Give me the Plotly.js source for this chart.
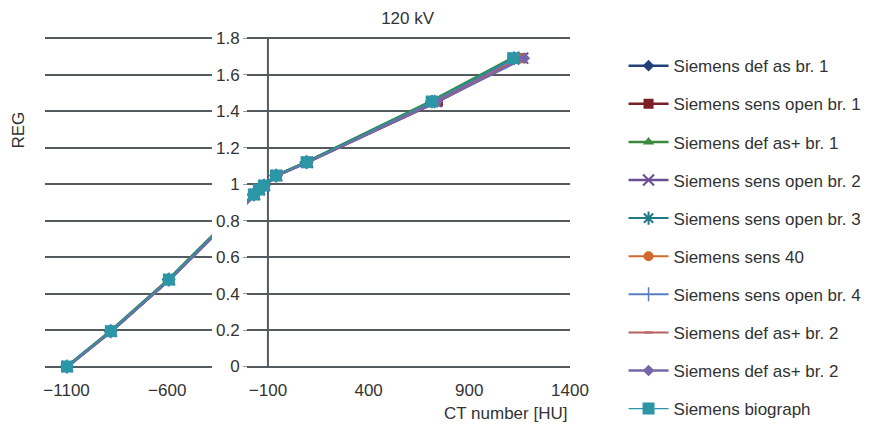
<!DOCTYPE html>
<html>
<head>
<meta charset="utf-8">
<script src="https://cdn.plot.ly/plotly-3.0.1.min.js"></script>
<style>html,body{margin:0;padding:0;background:#fff;}#chart{width:871px;height:430px;}</style>
</head>
<body>
<div id="chart"></div>
<script>
// REG values (shared material series)
const reg = [0.000, 0.194, 0.477, 0.944, 0.971, 0.993, 1.048, 1.121, 1.454, 1.692];

// CT numbers [HU] per scanner setting
const ctDefAsBr1       = [-1095, -878, -590, -168, -143, -118, -58, 95, 730, 1150];
const ctSensOpenBr1    = [-1097, -879, -590, -167, -144, -119, -57, 96, 744, 1160];
const ctDefAsPlusBr1   = [-1100, -884, -596, -172, -147, -122, -63, 88, 705, 1112];
const ctSensOpenBr2    = [-1096, -877, -589, -166, -142, -117, -56, 97, 735, 1165];
const ctSensOpenBr3    = [-1099, -882, -594, -171, -146, -121, -61, 90, 715, 1122];
const ctSens40         = [-1094, -876, -588, -165, -141, -116, -55, 98, 738, 1158];
const ctSensOpenBr4    = [-1097, -880, -591, -168, -143, -118, -58, 94, 728, 1145];
const ctDefAsPlusBr2a  = [-1096, -879, -590, -167, -142, -117, -57, 95, 732, 1152];
const ctDefAsPlusBr2b  = [-1094, -876, -587, -164, -140, -115, -54, 99, 740, 1173];
const ctBiograph       = [-1098, -880, -592, -170, -145, -120, -60, 92, 713, 1118];

const seriesNames = [
  "Siemens def as br. 1", "Siemens sens open br. 1", "Siemens def as+ br. 1",
  "Siemens sens open br. 2", "Siemens sens open br. 3", "Siemens sens 40",
  "Siemens sens open br. 4", "Siemens def as+ br. 2", "Siemens def as+ br. 2",
  "Siemens biograph"
];
const seriesCT = [ctDefAsBr1, ctSensOpenBr1, ctDefAsPlusBr1, ctSensOpenBr2, ctSensOpenBr3,
                  ctSens40, ctSensOpenBr4, ctDefAsPlusBr2a, ctDefAsPlusBr2b, ctBiograph];

const xTicks = [-1100, -600, -100, 400, 900, 1400];
const yTicks = [0, 0.2, 0.4, 0.6, 0.8, 1, 1.2, 1.4, 1.6, 1.8];

// styles
const styles = [
  {color: "#23407a", symbol: "diamond", size: 9, w: 2.5},
  {color: "#7b1f26", symbol: "square", size: 10, w: 2.5},
  {color: "#3b8a3e", symbol: "triangle-up", size: 10, w: 2.5},
  {color: "#6a4f96", symbol: "x-thin-open", size: 11, lw: 2, w: 2.5},
  {color: "#1f7a88", symbol: "asterisk-open", size: 11, lw: 2, w: 2},
  {color: "#d2692e", symbol: "circle", size: 10, w: 2},
  {color: "#5a7fc0", symbol: "line-ns-open", size: 10, lw: 1.5, w: 2},
  {color: "#b85f62", symbol: "line-ew-open", size: 6, lw: 2, w: 2},
  {color: "#7767a8", symbol: "diamond", size: 9, w: 2.5},
  {color: "#2b96a6", symbol: "square", size: 12, w: 1.2}
];

const FONT = '"Liberation Sans", Arial, Helvetica, sans-serif';
const TXT = "#333333";
const GRID = "#555a5e";

const traces = seriesNames.map((name, i) => {
  const s = styles[i];
  return {
    type: "scatter", mode: "lines+markers", name: name,
    x: seriesCT[i], y: reg,
    legendgroup: "g" + i,
    cliponaxis: false,
    line: {color: s.color, width: s.w},
    marker: {color: s.color, symbol: s.symbol, size: s.size,
             line: {color: s.color, width: s.lw || 0}},
    hoverinfo: "x+y+name"
  };
});

// white band behind the y tick labels (as in the original figure)
const bandLeft = -378, bandRight = -204;
traces.push({
  type: "scatter", mode: "none", x: [bandLeft, bandRight, bandRight, bandLeft],
  y: [-0.04, -0.04, 1.84, 1.84], fill: "toself", fillcolor: "#ffffff",
  showlegend: false, hoverinfo: "skip"
});

const xRange = [-1207, 1400];
const yRange = [-0.03, 1.83];
const axisCross = -100;

const layout = {
  width: 871, height: 430,
  margin: {l: 45, r: 301, t: 33, b: 58, pad: 0, autoexpand: false},
  paper_bgcolor: "#ffffff", plot_bgcolor: "#ffffff",
  font: {family: FONT, size: 17, color: TXT},
  title: {text: "120 kV", font: {family: FONT, size: 17, color: TXT},
          x: 0.468, xanchor: "center", y: 0.958, yanchor: "middle"},
  xaxis: {
    range: xRange, tickvals: xTicks, ticktext: xTicks.map(v => v < 0 ? "\u2212" + Math.abs(v) : String(v)),
    showgrid: false, zeroline: false, showline: false, ticks: "",
    tickfont: {family: FONT, size: 17, color: TXT}, ticklabelstandoff: 6
  },
  yaxis: {
    range: yRange, tickvals: yTicks,
    anchor: "free", position: (247 - 45) / 525, side: "left",
    showgrid: true, gridcolor: GRID, gridwidth: 2,
    zeroline: false, showline: false,
    ticks: "outside", ticklen: 4, tickcolor: "#9a9a9a", tickwidth: 1,
    tickfont: {family: FONT, size: 17, color: TXT}
  },
  shapes: [{
    type: "line", xref: "x", yref: "y", x0: axisCross, x1: axisCross, y0: 0, y1: 1.8,
    line: {color: GRID, width: 2}, layer: "between"
  }],
  annotations: [
    {text: "CT number [HU]", xref: "paper", yref: "paper", x: (506 - 45) / 525, y: (371.5 - 413) / 339,
     xanchor: "center", yanchor: "middle", showarrow: false, font: {family: FONT, size: 17, color: TXT}},
    {text: "REG", xref: "paper", yref: "paper", x: (18 - 45) / 525, y: (371.5 - 130) / 339,
     xanchor: "center", yanchor: "middle", textangle: -90, showarrow: false,
     font: {family: FONT, size: 17, color: TXT}}
  ],
  legend: {
    xref: "container", yref: "container",
    x: 0.7159, xanchor: "left", y: 0.8880, yanchor: "top",
    font: {family: FONT, size: 17, color: TXT},
    tracegroupgap: 13, bgcolor: "rgba(0,0,0,0)", itemwidth: 40, maxheight: 1
  },
  showlegend: true
};

Plotly.newPlot("chart", traces, layout, {displayModeBar: false, staticPlot: true});
</script>
</body>
</html>
